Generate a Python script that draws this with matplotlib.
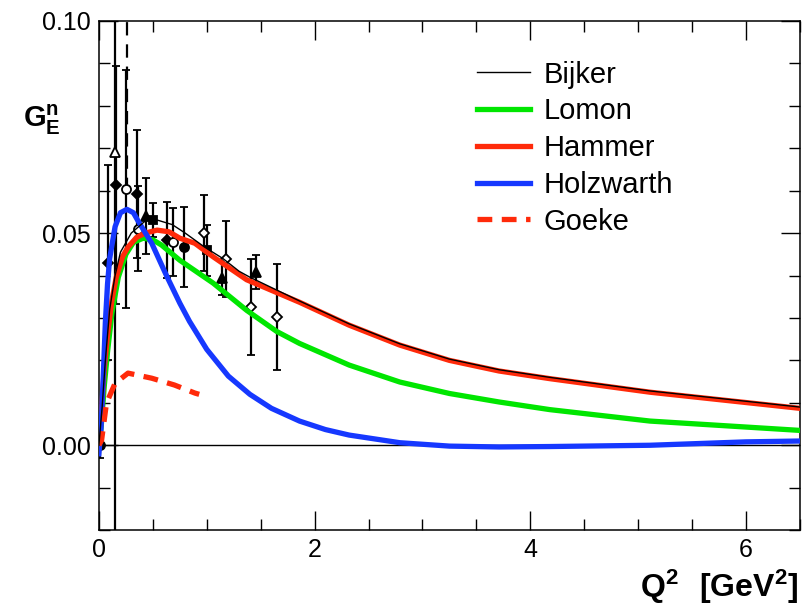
import numpy as np
import matplotlib
matplotlib.use('Agg')
from matplotlib import pyplot as plt

plt.rcParams['font.family'] = ['Liberation Sans', 'DejaVu Sans']
plt.rcParams['mathtext.fontset'] = 'custom'
plt.rcParams['mathtext.rm'] = 'Liberation Sans'
plt.rcParams['mathtext.bf'] = 'Liberation Sans:bold'

# model curves
bijker_x = [0, 0.03, 0.06, 0.10, 0.15, 0.20, 0.30, 0.45, 0.55, 0.68, 0.80, 0.98, 1.15, 1.30,
            1.40, 1.86, 2.32, 2.79, 3.25, 3.71, 4.18, 5.11, 6.5]
bijker_y = [0, 0.009, 0.020, 0.032, 0.040, 0.0455, 0.050, 0.0533, 0.053, 0.052, 0.050, 0.0467,
            0.0440, 0.0410, 0.0396, 0.0340, 0.0286, 0.0239, 0.0203, 0.0178, 0.0160, 0.0128, 0.0090]

lomon_x = [0, 0.02, 0.05, 0.08, 0.12, 0.18, 0.25, 0.32, 0.41, 0.50, 0.58, 0.75, 1.06, 1.37,
           1.65, 1.86, 2.32, 2.79, 3.25, 3.71, 4.18, 5.11, 6.5]
lomon_y = [0, 0.004, 0.014, 0.022, 0.031, 0.0396, 0.045, 0.0478, 0.0488, 0.0484, 0.0472, 0.0436,
           0.0382, 0.0318, 0.0268, 0.0240, 0.0189, 0.0149, 0.0122, 0.0102, 0.0084, 0.0057, 0.0035]

hammer_x = [0, 0.02, 0.05, 0.08, 0.12, 0.16, 0.22, 0.27, 0.35, 0.43, 0.54, 0.65, 0.75, 0.89,
            1.06, 1.37, 1.86, 2.32, 2.79, 3.25, 3.71, 4.18, 5.11, 6.5]
hammer_y = [0, 0.006, 0.018, 0.026, 0.034, 0.0395, 0.0445, 0.0467, 0.049, 0.050, 0.0507, 0.0503,
            0.0488, 0.0476, 0.0444, 0.0390, 0.0337, 0.0283, 0.0236, 0.0200, 0.0175, 0.0157, 0.0125, 0.0087]

holz_x = [0, 0.02, 0.04, 0.06, 0.08, 0.10, 0.15, 0.20, 0.26, 0.32, 0.36, 0.42, 0.49, 0.56, 0.63,
          0.75, 0.84, 1.0, 1.2, 1.40, 1.60, 1.86, 2.10, 2.32, 2.79, 3.25, 3.71, 4.18, 5.11, 6.0, 6.5]
holz_y = [-0.002, 0.004, 0.016, 0.029, 0.038, 0.044, 0.0515, 0.0548, 0.0556, 0.0548, 0.053, 0.0505,
          0.0476, 0.0437, 0.0398, 0.0335, 0.0292, 0.0226, 0.0163, 0.0120, 0.0087, 0.0057, 0.0037,
          0.0024, 0.0006, -0.0002, -0.0004, -0.0003, 0.0, 0.0008, 0.001]

goeke_x = [0, 0.025, 0.07, 0.15, 0.27, 0.49, 0.70, 0.89, 0.93]
goeke_y = [0, 0.0012, 0.0099, 0.0146, 0.017, 0.0158, 0.0142, 0.0123, 0.012]

# measurements: x, value, error, marker, filled
data_x = [0.01, 0.08, 0.15, 0.16, 0.25, 0.35, 0.36, 0.44, 0.50, 0.63, 0.69, 0.79,
          0.97, 1.00, 1.14, 1.18, 1.41, 1.46, 1.65]
data_y = [0.000, 0.043, 0.069, 0.0613, 0.0604, 0.0592, 0.051, 0.054, 0.053, 0.0484, 0.048, 0.0467,
          0.050, 0.046, 0.0394, 0.0439, 0.0326, 0.0408, 0.0302]
data_err = [0.003, 0.023, 0.12, 0.028, 0.028, 0.015, 0.010, 0.009, 0.004, 0.009, 0.008, 0.0095,
            0.009, 0.006, 0.004, 0.009, 0.0114, 0.004, 0.0125]
data_marker = ['o', 'D', '^', 'D', 'o', 'D', 'o', '^', 's', 'D', 'o', 'o',
               'D', 's', '^', 'D', 'D', '^', 'D']
data_filled = [True, True, False, True, False, True, False, True, True, True, False, True,
               False, True, True, False, False, True, False]

# dashed systematic bar above the low-Q2 point
sys_x = [0.26]
sys_lo = [0.060]
sys_hi = [0.10]


def main():
    fig = plt.figure(figsize=(8.04, 6.15), dpi=100)
    ax = fig.add_axes([0.123, 0.138, 0.872, 0.828])

    ax.axhline(0, color='black', lw=1.0, zorder=1)

    for x, y, e, m, f in zip(data_x, data_y, data_err, data_marker, data_filled):
        ms = {'o': 6.5, 's': 6, 'D': 5.5, '^': 7}[m]
        ax.errorbar(x, y, yerr=e, fmt=m, color='black', ms=ms, mfc='black' if f else 'white',
                    mec='black', mew=1.3, elinewidth=1.6, capsize=3, capthick=1.3, zorder=3)
    ax.vlines(sys_x, sys_lo, sys_hi, colors='black', linestyles=(0, (6, 4)), lw=1.6, zorder=3)

    ax.plot(bijker_x, bijker_y, color='black', lw=1.0, label='Bijker', zorder=6)
    ax.plot(lomon_x, lomon_y, color='#00e600', lw=3.8, label='Lomon', zorder=4)
    ax.plot(hammer_x, hammer_y, color='#ff2a0a', lw=3.8, label='Hammer', zorder=5)
    ax.plot(holz_x, holz_y, color='#1638ff', lw=3.8, label='Holzwarth', zorder=5)
    ax.plot(goeke_x, goeke_y, color='#ff2a0a', lw=3.8, ls=(0, (2.8, 1.8)), label='Goeke', zorder=5)

    ax.set_xlim(0, 6.5)
    ax.set_ylim(-0.02, 0.10)
    ax.set_xticks([0, 2, 4, 6])
    ax.set_xticks(np.arange(0, 6.51, 0.5), minor=True)
    ax.set_yticks([0.0, 0.05, 0.10])
    ax.set_yticklabels(['0.00', '0.05', '0.10'])
    ax.set_yticks(np.arange(-0.02, 0.1001, 0.01), minor=True)
    ax.tick_params(which='both', direction='in', top=True, right=True, labelsize=18, width=1.0)
    ax.tick_params(which='major', length=14, pad=6)
    ax.tick_params(which='minor', length=8)
    for s in ax.spines.values():
        s.set_linewidth(1.1)

    ax.legend(loc='upper left', bbox_to_anchor=(0.522, 0.945), frameon=False, fontsize=21,
              handlelength=1.85, handletextpad=0.45, labelspacing=0.3, borderaxespad=0)

    fig.text(0.052, 0.805, r'$\mathbf{G_{E}^{n}}$', fontsize=21, ha='center', va='center')
    fig.text(0.993, 0.045, r'$\mathbf{Q^{2}\ \ [GeV^{2}]}$', fontsize=23, ha='right', va='center')

    plt.savefig('out.png', dpi=100)


if __name__ == '__main__':
    main()
